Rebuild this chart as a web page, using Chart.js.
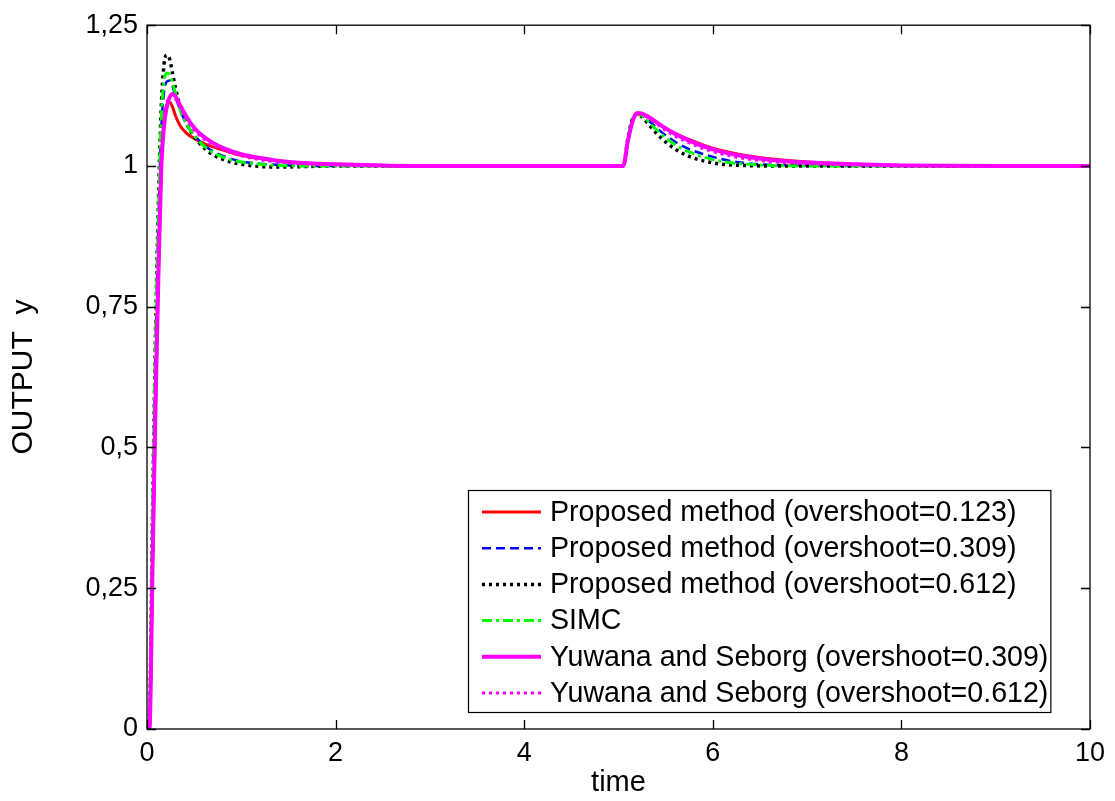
<!DOCTYPE html>
<html>
<head>
<meta charset="utf-8">
<script src="https://cdn.jsdelivr.net/npm/chart.js@4.4.1/dist/chart.umd.min.js"></script>
<style>
  body { margin: 0; background: #fff; }
  #grafico { display: block; }
</style>
</head>
<body>
<canvas id="grafico" width="1115" height="801"></canvas>
<script>
// tempo de simulação (comum a todas as curvas)
var tempo = [0, 0.025, 0.06, 0.09, 0.12, 0.15, 0.18, 0.21, 0.24, 0.27, 0.3, 0.35, 0.42, 0.5, 0.6, 0.7, 0.85, 1.0, 1.2, 1.4, 1.7, 2.0, 2.5, 3, 4, 5,
             5.05, 5.1, 5.15, 5.2, 5.25, 5.35, 5.45, 5.6, 5.75, 5.9, 6.1, 6.3, 6.6, 7.0, 7.5, 8, 9, 10];

var propostoOs123 = [0, 0, 0.30, 0.57, 0.80, 0.99, 1.08, 1.108, 1.113, 1.105, 1.09, 1.072, 1.058, 1.049, 1.04, 1.034, 1.026, 1.019, 1.013, 1.009, 1.005, 1.003, 1.001, 1, 1, 1,
                     1.0, 1.044, 1.079, 1.092, 1.091, 1.083, 1.072, 1.058, 1.047, 1.037, 1.027, 1.02, 1.013, 1.007, 1.003, 1.001, 1, 1];
var propostoOs309 = [0, 0.02, 0.38, 0.67, 0.89, 1.06, 1.13, 1.15, 1.152, 1.142, 1.125, 1.1, 1.075, 1.055, 1.038, 1.026, 1.015, 1.008, 1.004, 1.002, 1, 1, 1, 1, 1, 1,
                     1.0, 1.048, 1.083, 1.093, 1.09, 1.076, 1.061, 1.043, 1.03, 1.021, 1.012, 1.006, 1.002, 1.001, 1, 1, 1, 1];
var propostoOs612 = [0, 0.02, 0.40, 0.70, 0.93, 1.10, 1.18, 1.197, 1.19, 1.165, 1.14, 1.105, 1.075, 1.052, 1.033, 1.02, 1.009, 1.003, 0.999, 0.998, 0.999, 1, 1, 1, 1, 1,
                     1.0, 1.05, 1.085, 1.092, 1.087, 1.068, 1.05, 1.03, 1.017, 1.009, 1.003, 1.001, 1, 1, 1, 1, 1, 1];
var simc = [0, 0.02, 0.40, 0.69, 0.91, 1.08, 1.15, 1.165, 1.162, 1.148, 1.13, 1.1, 1.074, 1.054, 1.036, 1.024, 1.013, 1.007, 1.003, 1.001, 1, 1, 1, 1, 1, 1,
            1.0, 1.05, 1.085, 1.093, 1.089, 1.073, 1.057, 1.038, 1.025, 1.016, 1.008, 1.004, 1.001, 1, 1, 1, 1, 1];
var yuwanaOs309 = [0, 0, 0.30, 0.57, 0.80, 0.99, 1.07, 1.105, 1.122, 1.128, 1.124, 1.108, 1.087, 1.068, 1.052, 1.041, 1.029, 1.021, 1.014, 1.009, 1.005, 1.003, 1.001, 1, 1, 1,
                   1.0, 1.045, 1.08, 1.094, 1.093, 1.084, 1.072, 1.057, 1.045, 1.035, 1.025, 1.018, 1.011, 1.006, 1.003, 1.001, 1, 1];
var yuwanaOs612 = [0, 0, 0.32, 0.60, 0.83, 1.0, 1.08, 1.11, 1.124, 1.126, 1.12, 1.104, 1.083, 1.064, 1.048, 1.037, 1.026, 1.018, 1.011, 1.007, 1.004, 1.002, 1.001, 1, 1, 1,
                   1.0, 1.046, 1.081, 1.094, 1.092, 1.082, 1.069, 1.053, 1.041, 1.031, 1.021, 1.014, 1.008, 1.004, 1.002, 1.001, 1, 1];

var rotulos = [
    "Proposed method (overshoot=0.123)",
    "Proposed method (overshoot=0.309)",
    "Proposed method (overshoot=0.612)",
    "SIMC",
    "Yuwana and Seborg (overshoot=0.309)",
    "Yuwana and Seborg (overshoot=0.612)"
];

var ticksY = [0, 0.25, 0.5, 0.75, 1, 1.25];
var rotulosY = ["0", "0,25", "0,5", "0,75", "1", "1,25"];
var ticksX = [0, 2, 4, 6, 8, 10];

var fonte = "'Liberation Sans', Arial, sans-serif";

function pontos(valores) {
    return tempo.map(function (t, i) { return { x: t, y: valores[i] }; });
}

function serie(i, valores, cor, largura, tracos) {
    return {
        label: rotulos[i],
        data: pontos(valores),
        borderColor: cor,
        backgroundColor: cor,
        borderWidth: largura,
        borderDash: tracos,
        pointRadius: 0,
        fill: false,
        cubicInterpolationMode: "monotone",
        order: 6 - i
    };
}

// moldura, ticks para dentro e legenda estilo matlab
var molduraMatlab = {
    id: "molduraMatlab",
    afterDraw: function (chart) {
        var ctx = chart.ctx;
        var a = chart.chartArea;
        var sx = chart.scales.x, sy = chart.scales.y;
        var tam = 9;

        ctx.save();
        ctx.strokeStyle = "#000";
        ctx.lineWidth = 1.3;
        ctx.setLineDash([]);
        ctx.strokeRect(a.left, a.top, a.right - a.left, a.bottom - a.top);

        ctx.beginPath();
        ticksX.forEach(function (v) {
            var px = Math.round(sx.getPixelForValue(v)) + 0.5;
            ctx.moveTo(px, a.bottom); ctx.lineTo(px, a.bottom - tam);
            ctx.moveTo(px, a.top); ctx.lineTo(px, a.top + tam);
        });
        ticksY.forEach(function (v) {
            var py = Math.round(sy.getPixelForValue(v)) + 0.5;
            ctx.moveTo(a.left, py); ctx.lineTo(a.left + tam, py);
            ctx.moveTo(a.right, py); ctx.lineTo(a.right - tam, py);
        });
        ctx.stroke();

        // legenda
        ctx.font = "28.6px " + fonte;
        var largTexto = 0;
        chart.data.datasets.forEach(function (ds) {
            largTexto = Math.max(largTexto, ctx.measureText(ds.label).width);
        });
        var x0 = 468, y0 = 490, passo = 36.2;
        var xTexto = 550;
        var larg = xTexto + largTexto + 2 - x0;
        var alt = 222;
        ctx.fillStyle = "#fff";
        ctx.fillRect(x0, y0, larg, alt);
        ctx.lineWidth = 1.2;
        ctx.strokeRect(x0 + 0.5, y0 + 0.5, larg, alt);

        chart.data.datasets.forEach(function (ds, i) {
            var y = y0 + 22 + i * passo;
            ctx.beginPath();
            ctx.strokeStyle = ds.borderColor;
            ctx.lineWidth = ds.borderWidth;
            ctx.setLineDash(ds.borderDash || []);
            ctx.moveTo(482, y);
            ctx.lineTo(541, y);
            ctx.stroke();
            ctx.setLineDash([]);
            ctx.fillStyle = "#000";
            ctx.textBaseline = "middle";
            ctx.textAlign = "left";
            ctx.fillText(ds.label, xTexto, y + 1);
        });
        ctx.restore();
    }
};

new Chart(grafico.getContext("2d"), {
    type: "line",
    data: {
        datasets: [
            serie(0, propostoOs123, "#ff0000", 3, []),
            serie(1, propostoOs309, "#0000ff", 2.5, [9, 5]),
            serie(2, propostoOs612, "#000000", 3.5, [3, 4]),
            serie(3, simc, "#00ff00", 3, [10, 4, 3, 4]),
            serie(4, yuwanaOs309, "#ff00ff", 4, []),
            serie(5, yuwanaOs612, "#ff00ff", 3, [3, 4])
        ]
    },
    plugins: [molduraMatlab],
    options: {
        responsive: false,
        animation: false,
        layout: { padding: { left: 0, top: 22, right: 25, bottom: 0 } },
        scales: {
            x: {
                type: "linear",
                min: 0,
                max: 10,
                afterFit: function (s) { s.height = 72; },
                ticks: { stepSize: 2, color: "#000", padding: 8, font: { family: fonte, size: 27 } },
                grid: { display: false, drawTicks: false },
                border: { display: false },
                title: { display: true, text: "time", color: "#000", font: { family: fonte, size: 29 }, padding: { top: 0, bottom: 1 } }
            },
            y: {
                type: "linear",
                min: 0,
                max: 1.25,
                afterFit: function (s) { s.width = 147; },
                afterBuildTicks: function (s) { s.ticks = ticksY.map(function (v) { return { value: v }; }); },
                ticks: {
                    color: "#000",
                    padding: 9,
                    font: { family: fonte, size: 27 },
                    callback: function (v, i) { return rotulosY[i]; }
                },
                grid: { display: false, drawTicks: false },
                border: { display: false },
                title: { display: true, text: "OUTPUT  y", color: "#000", font: { family: fonte, size: 30 }, padding: { top: 6, bottom: 0 } }
            }
        },
        plugins: {
            legend: { display: false },
            tooltip: { enabled: false }
        }
    }
});
</script>
</body>
</html>
